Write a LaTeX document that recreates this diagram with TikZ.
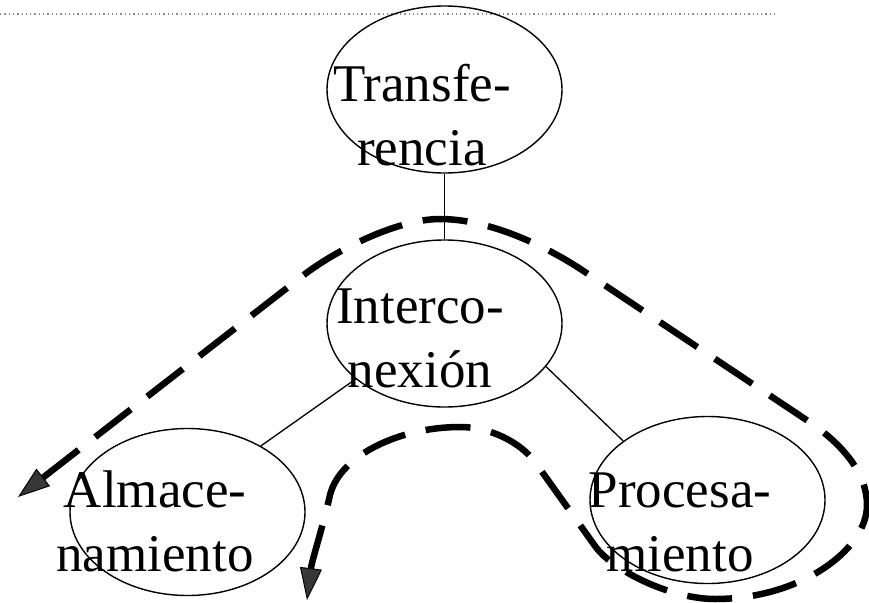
\documentclass[tikz,border=0pt]{standalone}
\usepackage{fontspec}
\setmainfont{Liberation Serif}
\usetikzlibrary{shapes.geometric, arrows.meta}
\definecolor{tipgray}{RGB}{55,55,55}
\definecolor{dotgray}{RGB}{140,140,140}

\begin{document}
\begin{tikzpicture}[
		x=1pt, y=-1pt,
		unit/.style={draw, ellipse, line width=1.4pt, minimum width=235pt, minimum height=167pt, inner sep=0pt},
		unittext/.style={anchor=base, align=center, inner sep=0pt, font=\fontsize{53pt}{63.5pt}\selectfont},
		link/.style={line width=1.3pt},
		flow/.style={line width=6.5pt, dash pattern=on 45pt off 21pt,
			{Triangle[length=32pt,width=22pt,line width=1pt,fill=tipgray]}-{Triangle[length=32pt,width=22pt,line width=1pt,fill=tipgray]}}
		]
		\useasboundingbox (0,0) rectangle (869,602);
		% Guide line
		\draw[dotgray, line width=1.3pt, dash pattern=on 1.3pt off 3pt] (0,14) -- (778,14);
		
		% Units
		\node[unit] (trans) at (444.5,89.5) {};
		\node[unit] (inter) at (444.5,323.5) {};
		\node[unit] (alma) at (187.5,512) {};
		\node[unit] (proc) at (707.5,500) {};
		
		% Labels (anchored at last baseline)
		\node[unittext] (transtext) at (422,165) {Transfe-\\rencia};
		\node[unittext] (intertext) at (420,387) {Interco-\\nexión};
		\node[unittext] (almatext) at (155,571) {Almace-\\namiento};
		\node[unittext] (proctext) at (680,571) {Procesa-\\miento};
		
		% Links
		\draw[link] (trans) -- (inter);
		\draw[link] (inter.-148) -- (alma.42);
		\draw[link] (inter.-23.5) -- (proc.145);
		
		% Flow
		\draw[flow] (18,497) -- (305,274)
			.. controls (341,247) and (400,219) .. (440,219)
			.. controls (490,219) and (548,247) .. (585,272) -- (805,419)
			.. controls (845,445) and (867,475) .. (867,505)
			.. controls (867,550) and (800,599) .. (715,599)
			.. controls (670,599) and (612,570) .. (595,546) -- (535,462)
			.. controls (520,442) and (490,427) .. (460,427)
			.. controls (400,427) and (340,455) .. (330,495)
			.. controls (322,530) and (312,560) .. (307,600);
	\end{tikzpicture}
\end{document}
